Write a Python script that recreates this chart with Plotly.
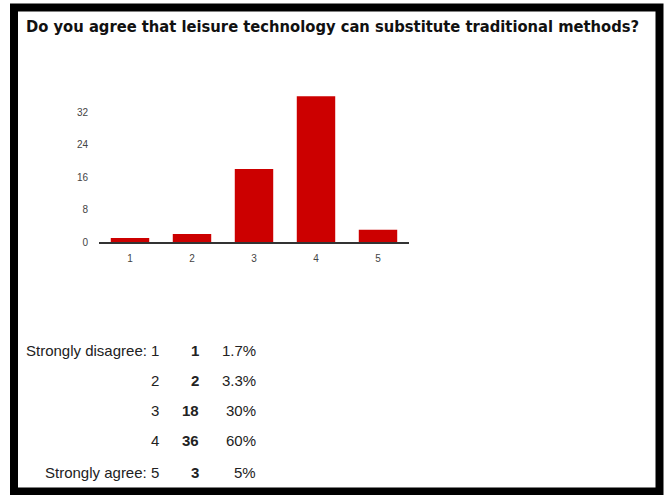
import plotly.graph_objects as go

categories = ["1", "2", "3", "4", "5"]
counts = [1, 2, 18, 36, 3]
percents = ["1.7%", "3.3%", "30%", "60%", "5%"]
row_labels = ["Strongly disagree: 1", "2", "3", "4", "Strongly agree: 5"]
y_ticks = [0, 8, 16, 24, 32]
title_text = "Do you agree that leisure technology can substitute traditional methods?"

W, H = 666, 495
L, R, T, B = 99, 257, 80, 253
PW, PH = W - L - R, H - T - B

def px(x):
    return (x - L) / PW

def py(y):
    return (H - B - y) / PH

fig = go.Figure()
fig.add_trace(go.Bar(x=categories, y=counts, marker=dict(color="#cc0000", line=dict(width=0)), width=0.62))

annotations = [dict(text="<b>" + title_text + "</b>", x=px(24), y=py(26), xref="paper", yref="paper",
                    xanchor="left", yanchor="middle", showarrow=False,
                    font=dict(family="DejaVu Sans Condensed, Liberation Sans, Arial", size=16.4, color="#111"))]
row_y = [350, 380, 411, 441, 472]
for lab, c, p, yy in zip(row_labels, counts, percents, row_y):
    f = dict(family="Liberation Sans, Arial", size=15, color="#222")
    annotations.append(dict(text=lab, x=px(161), y=py(yy), xref="paper", yref="paper", xanchor="right", yanchor="middle", showarrow=False, font=f))
    annotations.append(dict(text="<b>" + str(c) + "</b>", x=px(201), y=py(yy), xref="paper", yref="paper", xanchor="right", yanchor="middle", showarrow=False, font=f))
    annotations.append(dict(text=p, x=px(258), y=py(yy), xref="paper", yref="paper", xanchor="right", yanchor="middle", showarrow=False, font=f))

shapes = [dict(type="rect", xref="paper", yref="paper", x0=px(14), x1=px(659.5), y0=py(7.5), y1=py(491.5),
               line=dict(color="black", width=8), fillcolor="rgba(0,0,0,0)", layer="below")]

fig.update_layout(
    width=W, height=H, margin=dict(l=L, r=R, t=T, b=B),
    paper_bgcolor="white", plot_bgcolor="white", showlegend=False,
    annotations=annotations, shapes=shapes,
    xaxis=dict(type="category", range=[-0.5, 4.5], showline=True, linecolor="#333", linewidth=2,
               ticks="outside", ticklen=6, tickcolor="rgba(0,0,0,0)", showgrid=False, zeroline=False,
               tickfont=dict(family="Liberation Sans, Arial", size=10, color="#444")),
    yaxis=dict(range=[0, 40], tickvals=y_ticks, showgrid=False, zeroline=False, showline=False,
               ticks="outside", ticklen=8, tickcolor="rgba(0,0,0,0)",
               tickfont=dict(family="Liberation Sans, Arial", size=10, color="#444")),
)
fig.write_html("out.html", config={"displayModeBar": False},
               post_script="document.body.style.margin='0';document.body.style.overflow='hidden';")
